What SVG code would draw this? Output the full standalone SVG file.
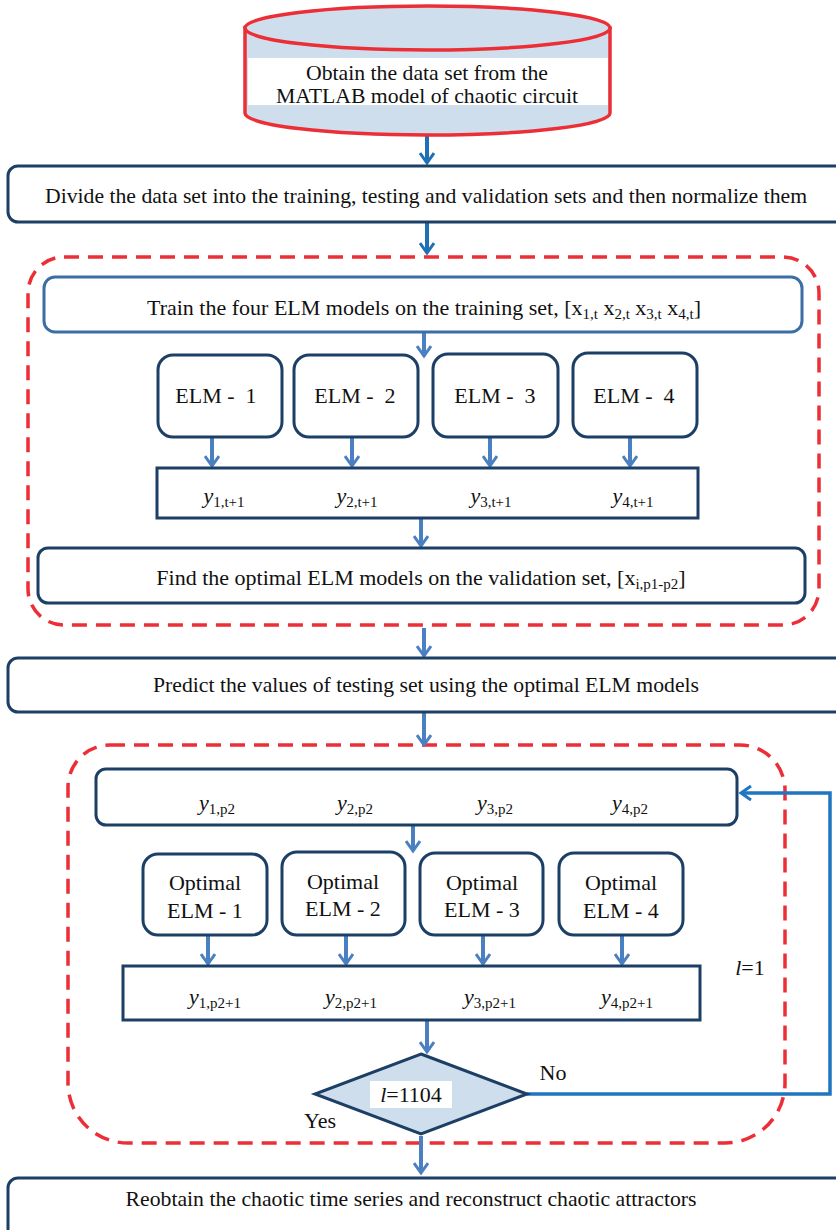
<svg xmlns="http://www.w3.org/2000/svg" width="836" height="1230" viewBox="0 0 836 1230">
<style>
text{font-family:"Liberation Serif","Times New Roman",serif;fill:#111;}
.t{font-size:22px;text-anchor:middle;}
.s{font-size:15px;}
.pre{white-space:pre;}
.box{fill:#fff;stroke:#1c3f66;stroke-width:3;}
.box2{fill:#fff;stroke:#3a6ea5;stroke-width:3;}
.dash{fill:none;stroke:#ec2f36;stroke-width:3.5;stroke-dasharray:15 9;}
.a1{stroke:#1f6fb5;stroke-width:4;fill:none;marker-end:url(#m1);}
.a2{stroke:#4a80c1;stroke-width:4;fill:none;marker-end:url(#m2);}
.fb{stroke:#1f75c0;stroke-width:3.5;fill:none;}
</style>
<defs>
<marker id="m1" viewBox="0 0 16 16" refX="12" refY="8" markerWidth="16" markerHeight="16" markerUnits="userSpaceOnUse" orient="auto">
<path d="M2,1 L12,8 L2,15" fill="none" stroke="#1f6fb5" stroke-width="3"/>
</marker>
<marker id="m2" viewBox="0 0 16 16" refX="12" refY="8" markerWidth="16" markerHeight="16" markerUnits="userSpaceOnUse" orient="auto">
<path d="M2,1 L12,8 L2,15" fill="none" stroke="#4a80c1" stroke-width="3"/>
</marker>
<marker id="m3" viewBox="0 0 16 16" refX="12" refY="8" markerWidth="16" markerHeight="16" markerUnits="userSpaceOnUse" orient="auto">
<path d="M2,1 L12,8 L2,15" fill="none" stroke="#1f75c0" stroke-width="3"/>
</marker>
</defs>

<g id="groups">
<rect class="dash" x="28" y="257" width="791" height="368" rx="36" ry="36"/>
<path class="dash" d="M110,745 L740,745 A45,45 0 0 1 785,790 L785,1083 A60,60 0 0 1 725,1143 L128,1143 A60,60 0 0 1 68,1083 L68,787 A42,42 0 0 1 110,745 Z"/>
</g>

<g id="connectors">
<line class="a1" x1="427" y1="136" x2="427" y2="163"/>
<line class="a1" x1="427" y1="223" x2="427" y2="253"/>
<line class="a2" x1="424" y1="333" x2="424" y2="356"/>
<line class="a2" x1="212" y1="438" x2="212" y2="466"/>
<line class="a2" x1="352" y1="438" x2="352" y2="466"/>
<line class="a2" x1="490" y1="438" x2="490" y2="466"/>
<line class="a2" x1="630" y1="438" x2="630" y2="466"/>
<line class="a2" x1="421" y1="519" x2="421" y2="546"/>
<line class="a2" x1="424" y1="628" x2="424" y2="656"/>
<line class="a2" x1="424" y1="713" x2="424" y2="745"/>
<line class="a2" x1="413" y1="826" x2="413" y2="851"/>
<line class="a2" x1="208" y1="936" x2="208" y2="964"/>
<line class="a2" x1="346" y1="936" x2="346" y2="964"/>
<line class="a2" x1="483" y1="936" x2="483" y2="964"/>
<line class="a2" x1="622" y1="936" x2="622" y2="964"/>
<line class="a2" x1="427" y1="1021" x2="427" y2="1052"/>
<line class="a2" x1="421" y1="1136" x2="421" y2="1173"/>
<path class="fb" d="M527,1094 L830,1094 L830,793 L741,793" marker-end="url(#m3)"/>
</g>

<g id="n-cylinder">
<path d="M245,28 L245,113 A182.5,22 0 0 0 610,113 L610,28 Z" fill="#cfdeec" stroke="#ec2f36" stroke-width="3.5"/>
<ellipse cx="427.5" cy="28" rx="182.5" ry="22" fill="#cfdeec" stroke="#ec2f36" stroke-width="3.5"/>
<rect x="248" y="58" width="360" height="47" fill="#fff"/>
<text class="t" x="427" y="80" textLength="242" lengthAdjust="spacingAndGlyphs">Obtain the data set from the</text>
<text class="t" x="427" y="103" textLength="302" lengthAdjust="spacingAndGlyphs">MATLAB model of chaotic circuit</text>
</g>

<g id="n-divide">
<rect class="box" x="8" y="166" width="840" height="56" rx="10"/>
<text class="t" x="426" y="203" textLength="762" lengthAdjust="spacingAndGlyphs">Divide the data set into the training, testing and validation sets and then normalize them</text>
</g>

<g id="n-train">
<rect class="box2" x="44" y="277" width="758" height="55" rx="11"/>
<text class="t" x="424" y="315">Train the four ELM models on the training set, [x<tspan class="s" dy="4">1,t</tspan><tspan dy="-4"> x</tspan><tspan class="s" dy="4">2,t</tspan><tspan dy="-4"> x</tspan><tspan class="s" dy="4">3,t</tspan><tspan dy="-4"> x</tspan><tspan class="s" dy="4">4,t</tspan><tspan dy="-4">]</tspan></text>
</g>

<g id="n-elm1"><rect class="box" x="158" y="355" width="124" height="82" rx="15"/><text class="t pre" x="216" y="403">ELM -  1</text></g>
<g id="n-elm2"><rect class="box" x="294" y="355" width="124" height="82" rx="15"/><text class="t pre" x="355" y="403">ELM -  2</text></g>
<g id="n-elm3"><rect class="box" x="433" y="354" width="125" height="83" rx="15"/><text class="t pre" x="495" y="403">ELM -  3</text></g>
<g id="n-elm4"><rect class="box" x="573" y="353" width="124" height="84" rx="15"/><text class="t pre" x="634" y="403">ELM -  4</text></g>

<g id="n-yt">
<rect class="box" x="157" y="468" width="541" height="50"/>
<text class="t" x="224" y="503"><tspan font-style="italic">y</tspan><tspan class="s" dy="4">1,t+1</tspan></text>
<text class="t" x="357" y="503"><tspan font-style="italic">y</tspan><tspan class="s" dy="4">2,t+1</tspan></text>
<text class="t" x="491" y="503"><tspan font-style="italic">y</tspan><tspan class="s" dy="4">3,t+1</tspan></text>
<text class="t" x="633" y="503"><tspan font-style="italic">y</tspan><tspan class="s" dy="4">4,t+1</tspan></text>
</g>

<g id="n-find">
<rect class="box" x="38" y="548" width="767" height="55" rx="10"/>
<text class="t" x="421" y="585">Find the optimal ELM models on the validation set, [x<tspan class="s" dy="4">i,p1-p2</tspan><tspan dy="-4">]</tspan></text>
</g>

<g id="n-predict">
<rect class="box" x="8" y="658" width="840" height="54" rx="10"/>
<text class="t" x="426" y="692" textLength="546" lengthAdjust="spacingAndGlyphs">Predict the values of testing set using the optimal ELM models</text>
</g>

<g id="n-yp2">
<rect class="box" x="96" y="769" width="641" height="56" rx="10"/>
<text class="t" x="217" y="810"><tspan font-style="italic">y</tspan><tspan class="s" dy="4">1,p2</tspan></text>
<text class="t" x="355" y="810"><tspan font-style="italic">y</tspan><tspan class="s" dy="4">2,p2</tspan></text>
<text class="t" x="495" y="810"><tspan font-style="italic">y</tspan><tspan class="s" dy="4">3,p2</tspan></text>
<text class="t" x="630" y="810"><tspan font-style="italic">y</tspan><tspan class="s" dy="4">4,p2</tspan></text>
</g>

<g id="n-opt1"><rect class="box" x="143" y="854" width="124" height="81" rx="15"/><text class="t" x="205" y="890">Optimal</text><text class="t" x="205" y="918">ELM - 1</text></g>
<g id="n-opt2"><rect class="box" x="282" y="852" width="123" height="83" rx="15"/><text class="t" x="343" y="889">Optimal</text><text class="t" x="343" y="916">ELM - 2</text></g>
<g id="n-opt3"><rect class="box" x="420" y="853" width="123" height="82" rx="15"/><text class="t" x="482" y="890">Optimal</text><text class="t" x="482" y="917">ELM - 3</text></g>
<g id="n-opt4"><rect class="box" x="559" y="853" width="124" height="82" rx="15"/><text class="t" x="621" y="890">Optimal</text><text class="t" x="621" y="918">ELM - 4</text></g>

<g id="n-yp21">
<rect class="box" x="123" y="966" width="577" height="54"/>
<text class="t" x="215" y="1004"><tspan font-style="italic">y</tspan><tspan class="s" dy="4">1,p2+1</tspan></text>
<text class="t" x="351" y="1004"><tspan font-style="italic">y</tspan><tspan class="s" dy="4">2,p2+1</tspan></text>
<text class="t" x="490" y="1004"><tspan font-style="italic">y</tspan><tspan class="s" dy="4">3,p2+1</tspan></text>
<text class="t" x="627" y="1004"><tspan font-style="italic">y</tspan><tspan class="s" dy="4">4,p2+1</tspan></text>
</g>

<g id="n-l1"><text class="t" x="750" y="975"><tspan font-style="italic">l</tspan>=1</text></g>

<g id="n-decision">
<polygon points="421,1054 527,1094 421,1134 315,1094" fill="#cfdeec" stroke="#1c3f66" stroke-width="3"/>
<rect x="370" y="1081" width="82" height="27" fill="#fff"/>
<text class="t" x="411" y="1102"><tspan font-style="italic">l</tspan>=1104</text>
<text class="t" x="553" y="1080">No</text>
<text class="t" x="320" y="1128">Yes</text>
</g>

<g id="n-reobtain">
<rect class="box" x="8" y="1178" width="840" height="70" rx="10"/>
<text class="t" x="411" y="1206" textLength="571" lengthAdjust="spacingAndGlyphs">Reobtain the chaotic time series and reconstruct chaotic attractors</text>
</g>
</svg>
